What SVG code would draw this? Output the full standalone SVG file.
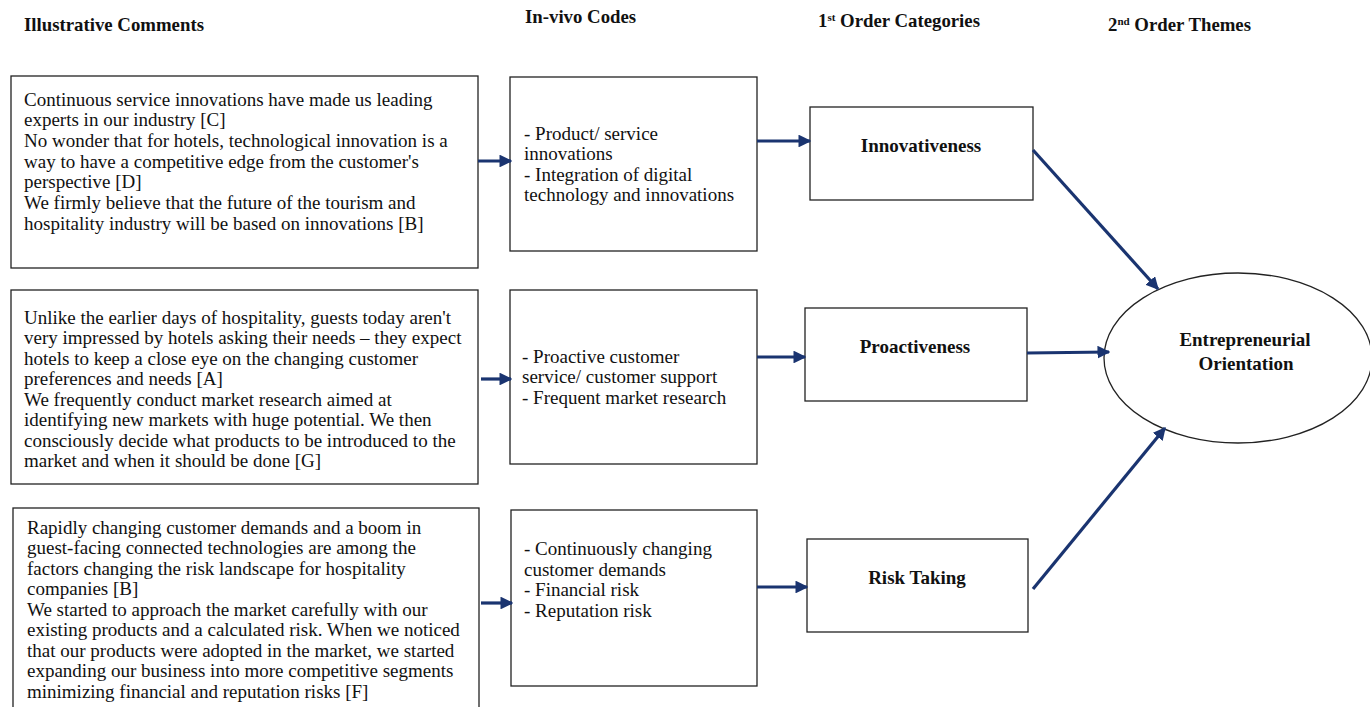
<svg xmlns="http://www.w3.org/2000/svg" width="1370" height="707" viewBox="0 0 1370 707">
<style>
.box{fill:#fff;stroke:#222;stroke-width:1.3}
.t{font-family:"Liberation Serif","Times New Roman",serif;font-size:19px;fill:#111}
.h{font-family:"Liberation Serif","Times New Roman",serif;font-size:18.8px;font-weight:bold;fill:#111}
.c{font-family:"Liberation Serif","Times New Roman",serif;font-size:19px;font-weight:bold;fill:#111;text-anchor:middle}
.sup{font-size:11px}
.a{stroke:#1a3470;stroke-width:3.2;fill:none;marker-end:url(#ah)}
</style>
<defs>
<marker id="ah" viewBox="0 0 10 10" refX="9" refY="5" markerWidth="4" markerHeight="4" orient="auto" markerUnits="strokeWidth">
<path d="M0,0 L10,5 L0,10 z" fill="#1a3470"/>
</marker>
</defs>
<rect width="1370" height="707" fill="#fff"/>
<g id="headers">
<text class="h" x="24" y="31">Illustrative Comments</text>
<text class="h" x="525" y="23">In-vivo Codes</text>
<text class="h" x="818" y="27">1<tspan class="sup" dy="-6">st</tspan><tspan dy="6"> Order Categories</tspan></text>
<text class="h" x="1108" y="31">2<tspan class="sup" dy="-6">nd</tspan><tspan dy="6"> Order Themes</tspan></text>
</g>
<g id="comment1">
<rect class="box" x="11" y="76" width="467" height="192"/>
<text class="t" x="24" y="106">Continuous service innovations have made us leading</text>
<text class="t" x="24" y="126">experts in our industry [C]</text>
<text class="t" x="24" y="147">No wonder that for hotels, technological innovation is a</text>
<text class="t" x="24" y="168">way to have a competitive edge from the customer's</text>
<text class="t" x="24" y="188">perspective [D]</text>
<text class="t" x="24" y="209">We firmly believe that the future of the tourism and</text>
<text class="t" x="24" y="230">hospitality industry will be based on innovations [B]</text>
</g>
<g id="comment2">
<rect class="box" x="11" y="290" width="467" height="194"/>
<text class="t" x="24" y="324">Unlike the earlier days of hospitality, guests today aren't</text>
<text class="t" x="24" y="344">very impressed by hotels asking their needs – they expect</text>
<text class="t" x="24" y="365">hotels to keep a close eye on the changing customer</text>
<text class="t" x="24" y="385">preferences and needs [A]</text>
<text class="t" x="24" y="406">We frequently conduct market research aimed at</text>
<text class="t" x="24" y="426">identifying new markets with huge potential. We then</text>
<text class="t" x="24" y="447">consciously decide what products to be introduced to the</text>
<text class="t" x="24" y="467">market and when it should be done [G]</text>
</g>
<g id="comment3">
<rect class="box" x="13" y="508" width="466" height="210"/>
<text class="t" x="27" y="534">Rapidly changing customer demands and a boom in</text>
<text class="t" x="27" y="554">guest-facing connected technologies are among the</text>
<text class="t" x="27" y="575">factors changing the risk landscape for hospitality</text>
<text class="t" x="27" y="595">companies [B]</text>
<text class="t" x="27" y="616">We started to approach the market carefully with our</text>
<text class="t" x="27" y="636">existing products and a calculated risk. When we noticed</text>
<text class="t" x="27" y="657">that our products were adopted in the market, we started</text>
<text class="t" x="27" y="677">expanding our business into more competitive segments</text>
<text class="t" x="27" y="698">minimizing financial and reputation risks [F]</text>
</g>
<g id="code1">
<rect class="box" x="510" y="77" width="247" height="174"/>
<text class="t" x="524" y="140">- Product/ service</text>
<text class="t" x="524" y="160">innovations</text>
<text class="t" x="524" y="181">- Integration of digital</text>
<text class="t" x="524" y="201">technology and innovations</text>
</g>
<g id="code2">
<rect class="box" x="510" y="290" width="247" height="174"/>
<text class="t" x="522" y="363">- Proactive customer</text>
<text class="t" x="522" y="383">service/ customer support</text>
<text class="t" x="522" y="404">- Frequent market research</text>
</g>
<g id="code3">
<rect class="box" x="511" y="510" width="246" height="176"/>
<text class="t" x="524" y="555">- Continuously changing</text>
<text class="t" x="524" y="576">customer demands</text>
<text class="t" x="524" y="596">- Financial risk</text>
<text class="t" x="524" y="617">- Reputation risk</text>
</g>
<g id="innovativeness">
<rect class="box" x="810" y="107" width="223" height="93"/>
<text class="c" x="921" y="152">Innovativeness</text>
</g>
<g id="proactiveness">
<rect class="box" x="805" y="308" width="222" height="93"/>
<text class="c" x="915" y="353">Proactiveness</text>
</g>
<g id="risktaking">
<rect class="box" x="807" y="539" width="221" height="93"/>
<text class="c" x="917" y="584">Risk Taking</text>
</g>
<g id="eo">
<ellipse class="box" cx="1238" cy="358" rx="134" ry="85"/>
<text class="c" x="1245" y="346">Entrepreneurial</text>
<text class="c" x="1246" y="370">Orientation</text>
</g>
<g id="connectors">
<line class="a" x1="478" y1="161" x2="511" y2="161"/>
<line class="a" x1="757" y1="141" x2="810" y2="141"/>
<line class="a" x1="1033" y1="150" x2="1158" y2="289"/>
<line class="a" x1="481" y1="379" x2="511" y2="379"/>
<line class="a" x1="757" y1="357" x2="805" y2="357"/>
<line class="a" x1="1027" y1="353" x2="1109" y2="352"/>
<line class="a" x1="481" y1="603" x2="512" y2="603"/>
<line class="a" x1="757" y1="587" x2="807" y2="587"/>
<line class="a" x1="1033" y1="589" x2="1165" y2="428"/>
</g>
</svg>
